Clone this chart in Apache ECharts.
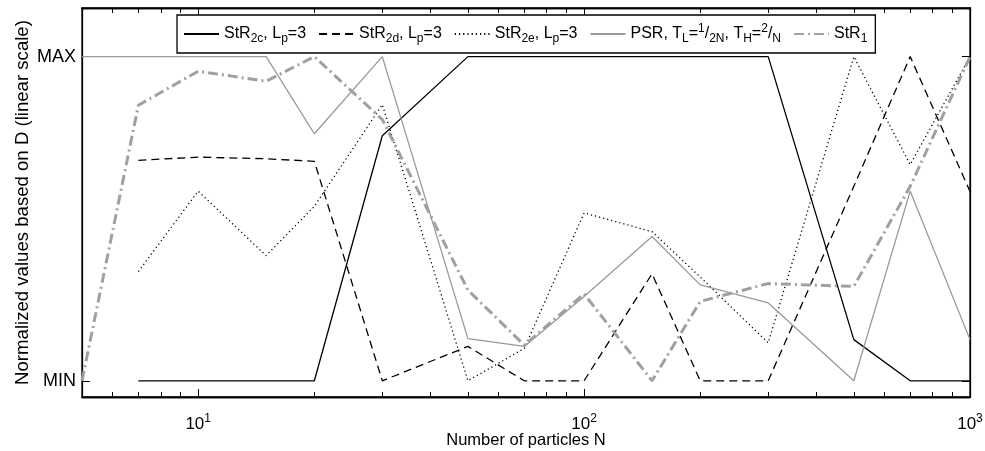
<!DOCTYPE html>
<html>
<head>
<meta charset="utf-8">
<script src="https://cdn.jsdelivr.net/npm/echarts@6/dist/echarts.min.js"></script>
<style>
  html, body { margin: 0; padding: 0; background: #fff; }
  #chart { width: 985px; height: 451px; }
</style>
</head>
<body>
<div id="chart"></div>
<script>
// Number of particles (log-spaced sample sizes)
const particles = [5, 7, 10, 15, 20, 30, 50, 70, 100, 150, 200, 300, 500, 700, 1000];

// Normalized D values: 0 = MIN, 1 = MAX (null = not evaluated)
const str2c = [null, 0, 0, 0, 0, 0.756, 1, 1, 1, 1, 1, 1, 0.127, 0, 0];
const str2d = [null, 0.68, 0.69, 0.685, 0.677, 0, 0.106, 0, 0, 0.33, 0, 0, 0.6, 1, 0.584];
const str2e = [null, 0.337, 0.585, 0.386, 0.538, 0.852, 0, 0.1, 0.518, 0.46, 0.32, 0.117, 1, 0.667, 1];
const psr   = [1, 1, 1, 1, 0.762, 1, 0.13, 0.106, 0.26, 0.445, 0.296, 0.24, 0, 0.585, 0.127];
const str1  = [0, 0.85, 0.955, 0.924, 1, 0.806, 0.28, 0.11, 0.268, 0, 0.245, 0.30, 0.291, 0.6, 1];

// Axis ticks
const majorTicks = [10, 100, 1000];
const minorTicks = [6, 7, 8, 9, 20, 30, 40, 50, 60, 70, 80, 90, 200, 300, 400, 500, 600, 700, 800, 900];
const yTicks = [0, 1];
const yTickLabels = ['MIN', 'MAX'];

const FONT = '"Liberation Sans", Arial, Helvetica, sans-serif';

function pairs(vals) {
  const out = [];
  particles.forEach((n, i) => { if (vals[i] !== null) out.push([n, vals[i]]); });
  return out;
}

const legendText = {
  'StR2c': 'StR{sub|2c}, L{sub|p}=3',
  'StR2d': 'StR{sub|2d}, L{sub|p}=3',
  'StR2e': 'StR{sub|2e}, L{sub|p}=3',
  'PSR':   'PSR, T{sub|L}={sup|1}/{sub|2N}, T{sub|H}={sup|2}/{sub|N}',
  'StR1':  'StR{sub|1}'
};

const X_MIN = 5, X_MAX = 1000, Y_MIN = -0.05, Y_MAX = 1.15;
const gridBox = { left: 82, right: 15, top: 8, bottom: 54, outerBoundsMode: 'none', containLabel: false };

function xAxisDef(gridIndex, position, ticks, len, withLabels) {
  const ax = {
    type: 'log', logBase: 10, min: X_MIN, max: X_MAX, gridIndex, position,
    axisLine: { show: true, onZero: false, lineStyle: { color: '#000', width: 1.3 } },
    axisTick: { show: true, inside: true, length: len, customValues: ticks, lineStyle: { color: '#000', width: 1 } },
    axisLabel: { show: false },
    splitLine: { show: false },
    minorTick: { show: false }
  };
  if (withLabels) {
    ax.axisLabel = {
      show: true, customValues: majorTicks, margin: 16,
      formatter: v => '{b|10}{p|' + Math.round(Math.log10(v)) + '}',
      rich: {
        b: { fontSize: 17, fontFamily: FONT, color: '#000' },
        p: { fontSize: 12, fontFamily: FONT, color: '#000', padding: [0, 0, 11, 0] }
      }
    };
    ax.name = 'Number of particles N';
    ax.nameLocation = 'middle';
    ax.nameGap = 35;
    ax.nameMoveOverlap = false;
    ax.nameTextStyle = { fontSize: 16.5, fontFamily: FONT, color: '#000', verticalAlign: 'top' };
  }
  return ax;
}

const option = {
  animation: false,
  backgroundColor: '#fff',
  grid: [
    Object.assign({ show: true, borderColor: '#000', borderWidth: 1.3, backgroundColor: 'transparent' }, gridBox),
    Object.assign({ show: false }, gridBox)
  ],
  legend: {
    left: 177, top: 15,
    orient: 'horizontal',
    itemWidth: 35, itemHeight: 12, itemGap: 12,
    padding: [8, 8, 8, 6],
    backgroundColor: '#fff',
    borderColor: '#000', borderWidth: 1.3, borderRadius: 0,
    itemStyle: { opacity: 0 },
    data: ['StR2c', 'StR2d', 'StR2e', 'PSR', 'StR1'],
    formatter: name => legendText[name],
    textStyle: {
      fontSize: 16, fontFamily: FONT, color: '#000',
      rich: {
        sub: { fontSize: 12, fontFamily: FONT, color: '#000', padding: [10, 0, 0, 0] },
        sup: { fontSize: 12, fontFamily: FONT, color: '#000', padding: [0, 0, 10, 0] }
      }
    }
  },
  xAxis: [
    xAxisDef(0, 'bottom', majorTicks, 8, true),
    xAxisDef(0, 'top', majorTicks, 8, false),
    xAxisDef(1, 'bottom', minorTicks, 5, false),
    xAxisDef(1, 'top', minorTicks, 5, false)
  ],
  yAxis: [
    {
      type: 'value', min: Y_MIN, max: Y_MAX, gridIndex: 0, position: 'left',
      axisLine: { show: true, onZero: false, lineStyle: { color: '#000', width: 1.3 } },
      axisTick: { show: true, inside: true, length: 8, customValues: yTicks, lineStyle: { color: '#000' } },
      axisLabel: {
        customValues: yTicks, margin: 6,
        formatter: v => yTickLabels[yTicks.indexOf(Math.round(v))],
        fontSize: 18, fontFamily: FONT, color: '#000'
      },
      splitLine: { show: false },
      name: 'Normalized values based on D (linear scale)',
      nameLocation: 'middle', nameGap: 50, nameMoveOverlap: false,
      nameTextStyle: { fontSize: 18.6, fontFamily: FONT, color: '#000' }
    },
    {
      type: 'value', min: Y_MIN, max: Y_MAX, gridIndex: 0, position: 'right',
      axisLine: { show: true, onZero: false, lineStyle: { color: '#000', width: 1.3 } },
      axisTick: { show: true, inside: true, length: 8, customValues: yTicks, lineStyle: { color: '#000' } },
      axisLabel: { show: false },
      splitLine: { show: false }
    },
    {
      type: 'value', min: Y_MIN, max: Y_MAX, gridIndex: 1,
      axisLine: { show: false }, axisTick: { show: false }, axisLabel: { show: false }, splitLine: { show: false }
    }
  ],
  series: [
    { name: 'StR2c', data: pairs(str2c), lineStyle: { color: '#000', width: 1.3, type: 'solid' } },
    { name: 'StR2d', data: pairs(str2d), lineStyle: { color: '#000', width: 1.3, type: [8, 5] } },
    { name: 'StR2e', data: pairs(str2e), lineStyle: { color: '#000', width: 1.3, type: [1.2, 3] } },
    { name: 'PSR',   data: pairs(psr),   lineStyle: { color: '#999', width: 1.3, type: 'solid' } },
    { name: 'StR1',  data: pairs(str1),  lineStyle: { color: '#a0a0a0', width: 3, type: [10, 4, 2, 4] } }
  ].map(s => Object.assign({
    type: 'line', xAxisIndex: 0, yAxisIndex: 0, symbol: 'none', showSymbol: false,
    itemStyle: { color: s.lineStyle.color }, emphasis: { disabled: true }
  }, s))
};

const chart = echarts.init(document.getElementById('chart'), null, { renderer: 'canvas' });
chart.setOption(option);
</script>
</body>
</html>
